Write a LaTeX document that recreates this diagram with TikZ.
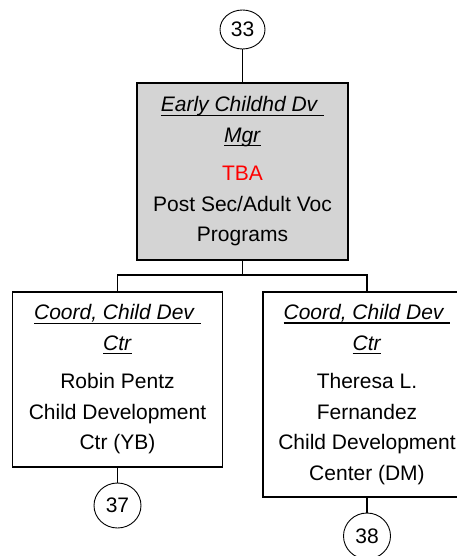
\documentclass[tikz,border=0pt]{standalone}
\usepackage{fontspec}
\setmainfont{Liberation Sans}
\usetikzlibrary{shapes.geometric}
\newsavebox\ulsave
\newcommand\ultext[1]{\sbox\ulsave{\textit{#1}}\rlap{\rule[-4pt]{\wd\ulsave}{1.3pt}}\usebox\ulsave}
\definecolor{boxgray}{RGB}{212,212,212}
\tikzset{post/.style={draw,line width=1.3pt,inner sep=0pt,align=center,font=\fontsize{21}{30.5}\selectfont},
  bubble/.style={draw,ellipse,line width=0.9pt,inner sep=0pt,font=\fontsize{21}{25}\selectfont}}
\begin{document}
\begin{tikzpicture}[x=1pt,y=-1pt,line width=1.3pt]
\useasboundingbox (0,0) rectangle (456,556);
\node[bubble,minimum width=45pt,minimum height=39pt] (n33) at (242.5,29.5) {33};
\node[post,fill=boxgray,minimum width=211pt,minimum height=177pt] (mgr) at (242.5,171.5)
  {\ultext{Early Childhd Dv\ }\\\ultext{Mgr}\\[8pt]\textcolor{red}{TBA}\\Post Sec/Adult Voc\\Programs};
\node[post,minimum width=210pt,minimum height=175pt] (yb) at (117.5,379.5)
  {\ultext{Coord, Child Dev\ }\\\ultext{Ctr}\\[8pt]Robin Pentz\\Child Development\\Ctr (YB)};
\node[post,minimum width=208pt,minimum height=205pt] (dm) at (367,394.5)
  {\ultext{Coord, Child Dev\ }\\\ultext{Ctr}\\[8pt]Theresa L.\\Fernandez\\Child Development\\Center (DM)};
\node[bubble,minimum width=47pt,minimum height=45pt] (n37) at (117.5,505.5) {37};
\node[bubble,minimum width=47pt,minimum height=46pt] (n38) at (367,536) {38};
\coordinate (bus) at (242.5,275);
% links
\draw (n33) -- (mgr);
\draw (mgr) -- (bus);
\foreach \b in {yb,dm} \draw (bus) -| (\b.north);
\draw (yb) -- (n37);
\draw (dm) -- (n38);
\end{tikzpicture}
\end{document}
